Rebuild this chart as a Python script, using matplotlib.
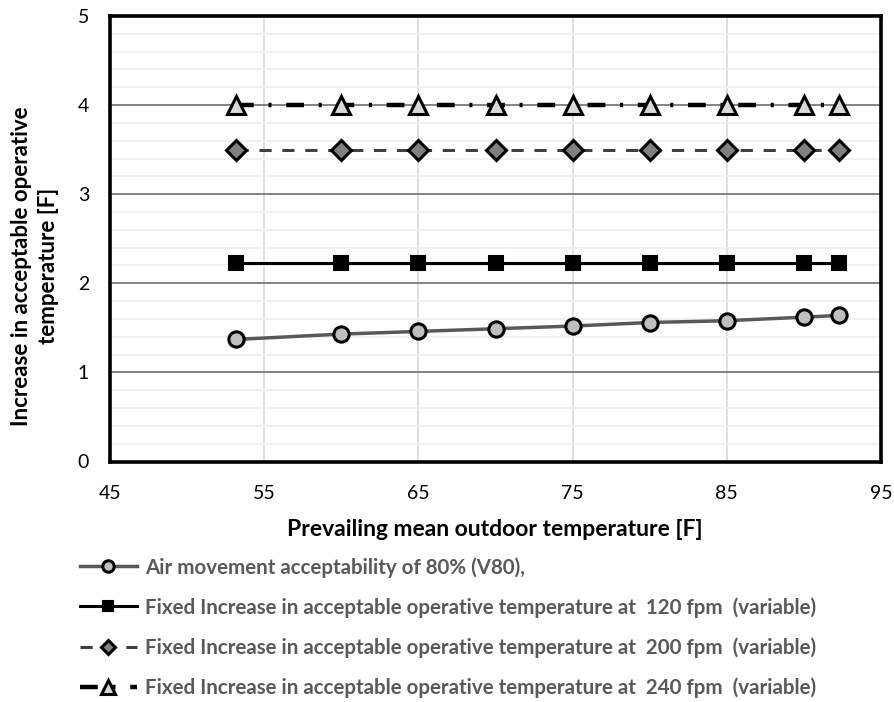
import matplotlib
matplotlib.use("Agg")
import matplotlib.pyplot as plt
from matplotlib.ticker import MultipleLocator

plt.rcParams['font.family'] = ['Lato', 'DejaVu Sans']

x_vals = [53.2, 60, 65, 70, 75, 80, 85, 90, 92.3]
v80 = [1.37, 1.43, 1.46, 1.49, 1.52, 1.56, 1.58, 1.62, 1.64]
fpm120 = [2.23] * 9
fpm200 = [3.5] * 9
fpm240 = [4.0] * 9

labels = [
    "Air movement acceptability of 80% (V80),",
    "Fixed Increase in acceptable operative temperature at  120 fpm  (variable)",
    "Fixed Increase in acceptable operative temperature at  200 fpm  (variable)",
    "Fixed Increase in acceptable operative temperature at  240 fpm  (variable)",
]
x_ticks = [45, 55, 65, 75, 85, 95]
y_ticks = [0, 1, 2, 3, 4, 5]

W, H = 895, 702
fig = plt.figure(figsize=(W/100, H/100), dpi=100)
ax = fig.add_axes([110/W, 1 - 461.5/H, (881-110)/W, (461.5-16)/H])

ax.set_xlim(45, 95)
ax.set_ylim(0, 5)
ax.set_xticks(x_ticks)
ax.set_yticks(y_ticks)
ax.yaxis.set_minor_locator(MultipleLocator(0.2))
ax.tick_params(which='both', length=0, labelsize=14, colors='black')
ax.tick_params(axis='x', pad=17)
ax.tick_params(axis='y', pad=15)
ax.grid(axis='y', which='minor', color='#efefef', lw=1.2, zorder=0)
ax.grid(axis='y', which='major', color='#6e6e6e', lw=1.2, zorder=1)
ax.grid(axis='x', which='major', color='#d9d9d9', lw=1.2, zorder=0)
for s in ax.spines.values():
    s.set_linewidth(2.6)
    s.set_color('black')

l1, = ax.plot(x_vals, v80, color='#595959', lw=2.5, marker='o', ms=11,
              mfc='#bfbfbf', mec='black', mew=2.2, zorder=3)
l2, = ax.plot(x_vals, fpm120, color='black', lw=2.2, marker='s', ms=10,
              mfc='black', mec='black', mew=1.5, zorder=3)
l3, = ax.plot(x_vals, fpm200, color='#404040', lw=2.2, ls=(0, (4, 3.5)), marker='D', ms=10,
              mfc='#808080', mec='black', mew=2.2, zorder=3)
l4, = ax.plot(x_vals, fpm240, color='black', lw=3.2, ls=(0, (4, 3.3, 0.7, 3.3)), marker='^', ms=13,
              mfc='#d9d9d9', mec='black', mew=2.2, zorder=3)

fig.text(495/W, 1 - 530/H, "Prevailing mean outdoor temperature [F]", fontsize=16.5,
         fontweight='bold', ha='center', va='center')
fig.text(35/W, 1 - 266/H, "Increase in acceptable operative\ntemperature [F]", fontsize=16,
         fontweight='bold', ha='center', va='center', rotation=90, multialignment='center',
         linespacing=1.3)

leg = fig.legend([l1, l2, l3, l4], labels, loc='upper left', bbox_to_anchor=(80/W, 1 - 557/H),
                 frameon=False, fontsize=14.8, handlelength=2.75, labelspacing=0.95,
                 handletextpad=0.4, markerscale=0.75, borderaxespad=0, borderpad=0)
for t in leg.get_texts():
    t.set_color('#595959')
    t.set_fontweight('bold')

fig.savefig("out.png", dpi=100)
